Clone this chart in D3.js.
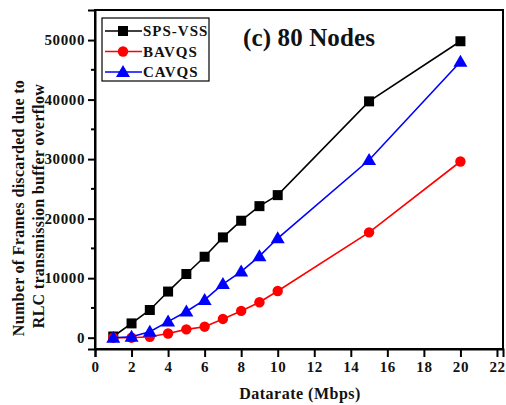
<!DOCTYPE html>
<html>
<head>
<meta charset="utf-8">
<script src="https://cdn.jsdelivr.net/npm/d3@7"></script>
<style>
  body { margin: 0; background: #fff; }
  svg text { font-family: "Liberation Serif", "Times New Roman", serif; font-weight: bold; fill: #111; }
</style>
</head>
<body>
<div id="chart"></div>
<script>
var datarate = [1, 2, 3, 4, 5, 6, 7, 8, 9, 10, 15, 20];
var spsVss = [200, 2400, 4650, 7750, 10700, 13600, 16850, 19650, 22100, 23950, 39700, 49800];
var bavqs = [0, 0, 150, 700, 1400, 1850, 3150, 4500, 5950, 7850, 17700, 29600];
var cavqs = [0, 150, 1000, 2700, 4400, 6350, 9000, 11100, 13700, 16700, 29850, 46350];
var seriesNames = ["SPS-VSS", "BAVQS", "CAVQS"];
var xTicks = [0, 2, 4, 6, 8, 10, 12, 14, 16, 18, 20, 22];
var yTicks = [0, 10000, 20000, 30000, 40000, 50000];
var yMinorTicks = [5000, 15000, 25000, 35000, 45000];

var width = 506, height = 405;
var m = {left: 95, right: 3, top: 10, bottom: 56};

var svg = d3.select("#chart").append("svg").attr("width", width).attr("height", height);

var x = d3.scaleLinear().domain([0, 22.33]).range([m.left, width - m.right]);
var y = d3.scaleLinear().domain([-1900, 55050]).range([height - m.bottom, m.top]);

var series = [
  {name: seriesNames[0], values: spsVss, color: "#000", shape: "square"},
  {name: seriesNames[1], values: bavqs, color: "#ff0000", shape: "circle"},
  {name: seriesNames[2], values: cavqs, color: "#0000ff", shape: "triangle"}
];

function marker(g, shape, color, cx, cy) {
  if (shape === "square") {
    g.append("rect").attr("x", cx - 5).attr("y", cy - 5).attr("width", 10).attr("height", 10).attr("fill", color);
  } else if (shape === "circle") {
    g.append("circle").attr("cx", cx).attr("cy", cy).attr("r", 5.2).attr("fill", color);
  } else {
    g.append("path").attr("d", "M" + cx + "," + (cy - 7) + "L" + (cx + 7) + "," + (cy + 5) + "L" + (cx - 7) + "," + (cy + 5) + "Z").attr("fill", color);
  }
}

// frame
svg.append("rect")
  .attr("x", m.left).attr("y", m.top)
  .attr("width", width - m.right - m.left).attr("height", height - m.bottom - m.top)
  .attr("fill", "none").attr("stroke", "#000").attr("stroke-width", 2);

// x axis
var xAxis = svg.append("g")
  .attr("transform", "translate(0," + (height - m.bottom) + ")")
  .call(d3.axisBottom(x).tickValues(xTicks).tickSize(8).tickPadding(4));
xAxis.select(".domain").attr("stroke-width", 2);
xAxis.selectAll(".tick line").attr("stroke-width", 2);
xAxis.selectAll("text").style("font-size", "15px").style("letter-spacing", "0.6px");

// y axis
var yAxis = svg.append("g")
  .attr("transform", "translate(" + m.left + ",0)")
  .call(d3.axisLeft(y).tickValues(yTicks).tickFormat(d3.format("d")).tickSize(7).tickPadding(3));
yAxis.select(".domain").attr("stroke-width", 2);
yAxis.selectAll(".tick line").attr("stroke-width", 2);
yAxis.selectAll("text").style("font-size", "15px").style("letter-spacing", "0.6px");

svg.append("g").selectAll("line").data(yMinorTicks).enter().append("line")
  .attr("x1", m.left - 4).attr("x2", m.left)
  .attr("y1", function(d) { return y(d); }).attr("y2", function(d) { return y(d); })
  .attr("stroke", "#000").attr("stroke-width", 2);

// lines + markers
var line = d3.line().x(function(d) { return x(d[0]); }).y(function(d) { return y(d[1]); });
series.forEach(function(s) {
  var pts = datarate.map(function(r, i) { return [r, s.values[i]]; });
  svg.append("path").datum(pts).attr("d", line)
    .attr("fill", "none").attr("stroke", s.color).attr("stroke-width", 1.6);
  var g = svg.append("g");
  pts.forEach(function(p) { marker(g, s.shape, s.color, x(p[0]), y(p[1])); });
});

// legend
var lg = svg.append("g");
lg.append("rect").attr("x", 102).attr("y", 18).attr("width", 107).attr("height", 63)
  .attr("fill", "#fff").attr("stroke", "#000").attr("stroke-width", 1.2);
series.forEach(function(s, i) {
  var ly = 31 + i * 20.5;
  lg.append("line").attr("x1", 105).attr("x2", 142).attr("y1", ly).attr("y2", ly)
    .attr("stroke", s.color).attr("stroke-width", 1.6);
  marker(lg, s.shape, s.color, 123, ly);
  lg.append("text").attr("x", 143).attr("y", ly + 5)
    .style("font-size", "15px").style("letter-spacing", "1px").text(s.name);
});

// title
svg.append("text").attr("x", 243).attr("y", 46).attr("textLength", 132)
  .style("font-size", "25px").text("(c) 80 Nodes");

// axis titles
svg.append("text").attr("x", 300).attr("y", 399).attr("text-anchor", "middle")
  .style("font-size", "16px").style("letter-spacing", "0.5px").text("Datarate (Mbps)");
svg.append("text").attr("transform", "translate(24,208) rotate(-90)").attr("text-anchor", "middle")
  .style("font-size", "16px").style("letter-spacing", "0.3px").text("Number of Frames discarded due to");
svg.append("text").attr("transform", "translate(44,206) rotate(-90)").attr("text-anchor", "middle")
  .style("font-size", "16px").style("letter-spacing", "0.3px").text("RLC transmission buffer overflow");
</script>
</body>
</html>
